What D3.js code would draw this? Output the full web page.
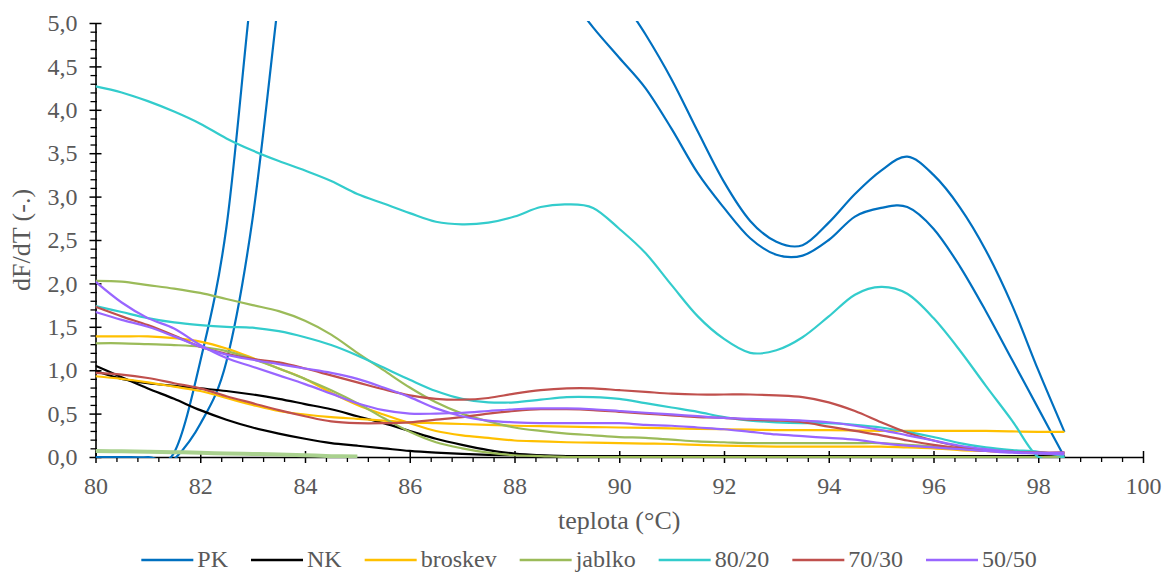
<!DOCTYPE html>
<html>
<head>
<meta charset="utf-8">
<script src="https://cdn.jsdelivr.net/npm/d3@7"></script>
<style>
  body { margin: 0; background: #fff; }
  svg { display: block; }
  text { font-family: "Liberation Serif", Tinos, "Times New Roman", "DejaVu Serif", serif; }
</style>
</head>
<body>
<div id="chart"></div>
<script>
// temperatures (°C) at which dF/dT was sampled
const temps = [80, 80.5, 81, 81.5, 82, 82.5, 83, 83.5, 84, 84.5, 85, 85.5, 86, 86.5, 87, 87.5, 88, 88.5, 89, 89.5,
  90, 90.5, 91, 91.5, 92, 92.5, 93, 93.5, 94, 94.5, 95, 95.5, 96, 96.5, 97, 97.5, 98, 98.5];

// two replicates per sample
const pk1 = [0, 0, 0, 0.05, 1.1, 2.65, 5.5, 7.8, 9.0, 9.6, 9.8, 9.6, 9.1, 8.4, 7.6, 6.9, 6.3, 5.8, 5.35, 4.95,
  4.6, 4.25, 3.78, 3.27, 2.87, 2.52, 2.33, 2.32, 2.5, 2.77, 2.87, 2.88, 2.63, 2.2, 1.68, 1.12, 0.56, 0];
const pk2 = [-0.3, -0.3, -0.25, -0.03, 0.38, 1.1, 2.75, 5.3, 7.8, 9.3, 10.2, 10.5, 10.4, 10.0, 9.4, 8.7, 8.0, 7.2, 6.5, 5.85,
  5.33, 4.87, 4.35, 3.75, 3.17, 2.72, 2.48, 2.44, 2.7, 3.03, 3.3, 3.46, 3.25, 2.88, 2.38, 1.75, 1.0, 0.29];
const nk1 = [1.05, 0.92, 0.79, 0.67, 0.54, 0.43, 0.34, 0.27, 0.21, 0.16, 0.13, 0.1, 0.07, 0.05, 0.035, 0.025, 0.02, 0.015, 0.01, 0.01,
  0.01, 0.01, 0.01, 0.01, 0.01, 0.01, 0.01, 0.01, 0.01, 0.01, 0.01, 0.01, 0.01, 0.01, 0.01, 0.01, 0.01, 0.01];
const nk2 = [0.99, 0.9, 0.85, 0.82, 0.79, 0.76, 0.72, 0.67, 0.61, 0.55, 0.47, 0.39, 0.3, 0.21, 0.14, 0.08, 0.04, 0.02, 0.01, 0.01,
  0.01, 0.01, 0.01, 0.01, 0.01, 0.01, 0.01, 0.01, 0.01, 0.01, 0.01, 0.01, 0.01, 0.01, 0.01, 0.01, 0.01, 0.01];
const broskev1 = [1.39, 1.39, 1.39, 1.37, 1.33, 1.25, 1.14, 1.02, 0.9, 0.74, 0.6, 0.49, 0.39, 0.3, 0.25, 0.22, 0.19, 0.18, 0.17, 0.165,
  0.16, 0.155, 0.15, 0.14, 0.13, 0.125, 0.12, 0.12, 0.12, 0.12, 0.12, 0.11, 0.1, 0.08, 0.07, 0.06, 0.05, 0.04];
const broskev2 = [0.93, 0.9, 0.86, 0.81, 0.76, 0.68, 0.6, 0.53, 0.49, 0.46, 0.44, 0.42, 0.4, 0.39, 0.38, 0.37, 0.36, 0.355, 0.35, 0.345,
  0.34, 0.335, 0.33, 0.325, 0.32, 0.315, 0.31, 0.31, 0.31, 0.305, 0.3, 0.3, 0.3, 0.3, 0.3, 0.295, 0.29, 0.29];
const jablko1 = [2.03, 2.02, 1.98, 1.94, 1.89, 1.82, 1.75, 1.68, 1.57, 1.41, 1.2, 1.0, 0.8, 0.63, 0.5, 0.41, 0.34, 0.3, 0.27, 0.25,
  0.23, 0.22, 0.2, 0.18, 0.17, 0.16, 0.16, 0.16, 0.16, 0.16, 0.16, 0.14, 0.12, 0.1, 0.08, 0.06, 0.04, 0.03];
const jablko2 = [1.31, 1.31, 1.3, 1.29, 1.27, 1.22, 1.13, 1.02, 0.9, 0.77, 0.62, 0.45, 0.29, 0.17, 0.1, 0.05, 0.02, 0.01, 0, 0,
  0, 0, 0, 0, 0, 0, 0, 0, 0, 0, 0, 0, 0, 0, 0, 0, 0, 0];
// short pale-green trace near zero (80–85 °C), not in the legend
const jablkoBase = [0.07, 0.065, 0.06, 0.055, 0.05, 0.04, 0.035, 0.03, 0.02, 0.01, 0.005];
const s8020a = [4.27, 4.2, 4.1, 3.98, 3.84, 3.67, 3.53, 3.41, 3.3, 3.18, 3.03, 2.92, 2.81, 2.71, 2.68, 2.7, 2.77, 2.88, 2.91, 2.87,
  2.63, 2.35, 1.98, 1.62, 1.36, 1.2, 1.23, 1.38, 1.62, 1.87, 1.96, 1.88, 1.6, 1.23, 0.82, 0.42, 0, 0];
const s8020b = [1.74, 1.67, 1.6, 1.55, 1.52, 1.5, 1.49, 1.45, 1.38, 1.29, 1.17, 1.03, 0.89, 0.76, 0.67, 0.63, 0.63, 0.66, 0.69, 0.69,
  0.67, 0.62, 0.57, 0.52, 0.46, 0.42, 0.4, 0.39, 0.39, 0.37, 0.34, 0.29, 0.23, 0.16, 0.11, 0.08, 0.06, 0.01];
const s7030a = [1.73, 1.62, 1.52, 1.4, 1.27, 1.19, 1.13, 1.09, 1.02, 0.94, 0.86, 0.78, 0.71, 0.67, 0.66, 0.68, 0.73, 0.77, 0.79, 0.79,
  0.77, 0.75, 0.73, 0.72, 0.72, 0.72, 0.71, 0.69, 0.63, 0.53, 0.4, 0.28, 0.19, 0.12, 0.08, 0.06, 0.05, 0.05];
const s7030b = [0.97, 0.95, 0.91, 0.85, 0.79, 0.7, 0.62, 0.54, 0.47, 0.41, 0.39, 0.39, 0.4, 0.43, 0.46, 0.5, 0.53, 0.55, 0.55, 0.54,
  0.52, 0.5, 0.48, 0.46, 0.45, 0.43, 0.42, 0.4, 0.35, 0.3, 0.25, 0.19, 0.14, 0.1, 0.07, 0.06, 0.05, 0.05];
const s5050a = [2.02, 1.78, 1.6, 1.48, 1.29, 1.14, 1.04, 0.94, 0.84, 0.73, 0.62, 0.54, 0.5, 0.5, 0.51, 0.53, 0.55, 0.56, 0.56, 0.55,
  0.53, 0.51, 0.49, 0.47, 0.45, 0.44, 0.43, 0.42, 0.4, 0.36, 0.31, 0.25, 0.19, 0.13, 0.09, 0.06, 0.05, 0.05];
const s5050b = [1.67, 1.58, 1.5, 1.39, 1.27, 1.18, 1.12, 1.07, 1.02, 0.97, 0.9, 0.8, 0.69, 0.56, 0.47, 0.42, 0.4, 0.39, 0.39, 0.39,
  0.39, 0.37, 0.36, 0.34, 0.32, 0.29, 0.26, 0.24, 0.22, 0.2, 0.16, 0.13, 0.11, 0.09, 0.07, 0.05, 0.04, 0.03];

const legendNames = ["PK", "NK", "broskev", "jablko", "80/20", "70/30", "50/50"];
const xTicks = [80, 82, 84, 86, 88, 90, 92, 94, 96, 98, 100];
const yTicks = [0, 0.5, 1, 1.5, 2, 2.5, 3, 3.5, 4, 4.5, 5];

const colors = {
  "PK": "#0070C0",
  "NK": "#000000",
  "broskev": "#FFC000",
  "jablko": "#9BBB59",
  "80/20": "#33CCCC",
  "70/30": "#C0504D",
  "50/50": "#9966FF",
};

const series = [
  { name: "PK", values: pk1 }, { name: "PK", values: pk2 },
  { name: "NK", values: nk1 }, { name: "NK", values: nk2 },
  { name: "broskev", values: broskev1 }, { name: "broskev", values: broskev2 },
  { name: "jablko", values: jablko1 }, { name: "jablko", values: jablko2 },
  { name: null, values: jablkoBase, color: "#A9D18E", width: 4 },
  { name: "80/20", values: s8020a }, { name: "80/20", values: s8020b },
  { name: "70/30", values: s7030a }, { name: "70/30", values: s7030b },
  { name: "50/50", values: s5050a }, { name: "50/50", values: s5050b },
];

const width = 1164, height = 573;
const plot = { left: 95.5, right: 1143, top: 23, bottom: 457 };
const textColor = "#595959";
const fontStack = "'Liberation Serif', Tinos, 'Times New Roman', 'DejaVu Serif', serif";

const svg = d3.select("#chart").append("svg")
  .attr("width", width).attr("height", height)
  .attr("font-family", fontStack);

const x = d3.scaleLinear().domain([80, 100]).range([plot.left, plot.right]);
const y = d3.scaleLinear().domain([0, 5]).range([plot.bottom, plot.top]);
const fmt = d => d3.format(".1f")(d).replace(".", ",");

// minor ticks
const yMinor = d3.range(0, 5.001, 0.1).filter(v => Math.abs(v * 2 - Math.round(v * 2)) > 1e-6);
const xMinor = d3.range(80, 100.001, 0.4).filter(v => Math.abs(v / 2 - Math.round(v / 2)) > 1e-6);

svg.append("g")
  .attr("transform", `translate(${plot.left},0)`)
  .call(d3.axisLeft(y).tickValues(yMinor).tickFormat("").tickSize(5).tickSizeOuter(0))
  .call(g => g.select(".domain").remove())
  .call(g => g.selectAll(".tick line").attr("stroke", "#000").attr("stroke-width", 1.3).attr("x1", 1.5));

svg.append("g")
  .attr("transform", `translate(0,${plot.bottom})`)
  .call(d3.axisBottom(x).tickValues(xMinor).tickFormat("").tickSize(5).tickSizeOuter(0))
  .call(g => g.select(".domain").remove())
  .call(g => g.selectAll(".tick line").attr("stroke", "#000").attr("stroke-width", 1.3));

const yAxis = svg.append("g")
  .attr("transform", `translate(${plot.left},0)`)
  .call(d3.axisLeft(y).tickValues(yTicks).tickFormat(fmt).tickSize(6).tickSizeOuter(0).tickPadding(12));
yAxis.selectAll(".tick line").attr("x1", 6).attr("stroke-width", 1.5);

const xAxis = svg.append("g")
  .attr("transform", `translate(0,${plot.bottom})`)
  .call(d3.axisBottom(x).tickValues(xTicks).tickSize(6).tickSizeOuter(0).tickPadding(14));
xAxis.selectAll(".tick line").attr("y1", -6).attr("stroke-width", 1.5);

[xAxis, yAxis].forEach(g => {
  g.attr("font-family", fontStack).attr("font-size", 24);
  g.select(".domain").attr("stroke", "#000").attr("stroke-width", 1.6);
  g.selectAll(".tick text").attr("fill", textColor);
});

// lines
svg.append("clipPath").attr("id", "clip")
  .append("rect").attr("x", plot.left).attr("y", plot.top - 2)
  .attr("width", plot.right - plot.left).attr("height", plot.bottom - plot.top + 3);

const line = d3.line()
  .x((d, i) => x(temps[i]))
  .y(d => y(d))
  .curve(d3.curveCardinal.tension(0));

svg.append("g").attr("clip-path", "url(#clip)")
  .selectAll("path")
  .data(series)
  .join("path")
  .attr("fill", "none")
  .attr("stroke", d => d.color || colors[d.name])
  .attr("stroke-width", d => d.width || 2.2)
  .attr("stroke-linejoin", "round")
  .attr("d", d => line(d.values));

// axis titles
svg.append("text")
  .attr("x", (plot.left + plot.right) / 2).attr("y", 529)
  .attr("text-anchor", "middle").attr("fill", textColor)
  .attr("font-size", 26)
  .text("teplota (°C)");

svg.append("text")
  .attr("transform", "translate(30,240) rotate(-90)")
  .attr("text-anchor", "middle").attr("fill", textColor)
  .attr("font-size", 26)
  .text("dF/dT (-.)");

// legend
const legend = svg.append("g").attr("class", "legend");
const lineLen = 52, textGap = 4, itemGap = 23;
let lx = 0;
legendNames.forEach(name => {
  const g = legend.append("g").attr("transform", `translate(${lx},0)`);
  g.append("line").attr("x1", 0).attr("x2", lineLen).attr("y1", 560).attr("y2", 560)
    .attr("stroke", colors[name]).attr("stroke-width", 2.6);
  const t = g.append("text").attr("x", lineLen + textGap).attr("y", 567)
    .attr("fill", textColor).attr("font-size", 24).text(name);
  lx += lineLen + textGap + t.node().getComputedTextLength() + itemGap;
});
const legendWidth = lx - itemGap;
legend.attr("transform", `translate(${589 - legendWidth / 2},0)`);
</script>
</body>
</html>
